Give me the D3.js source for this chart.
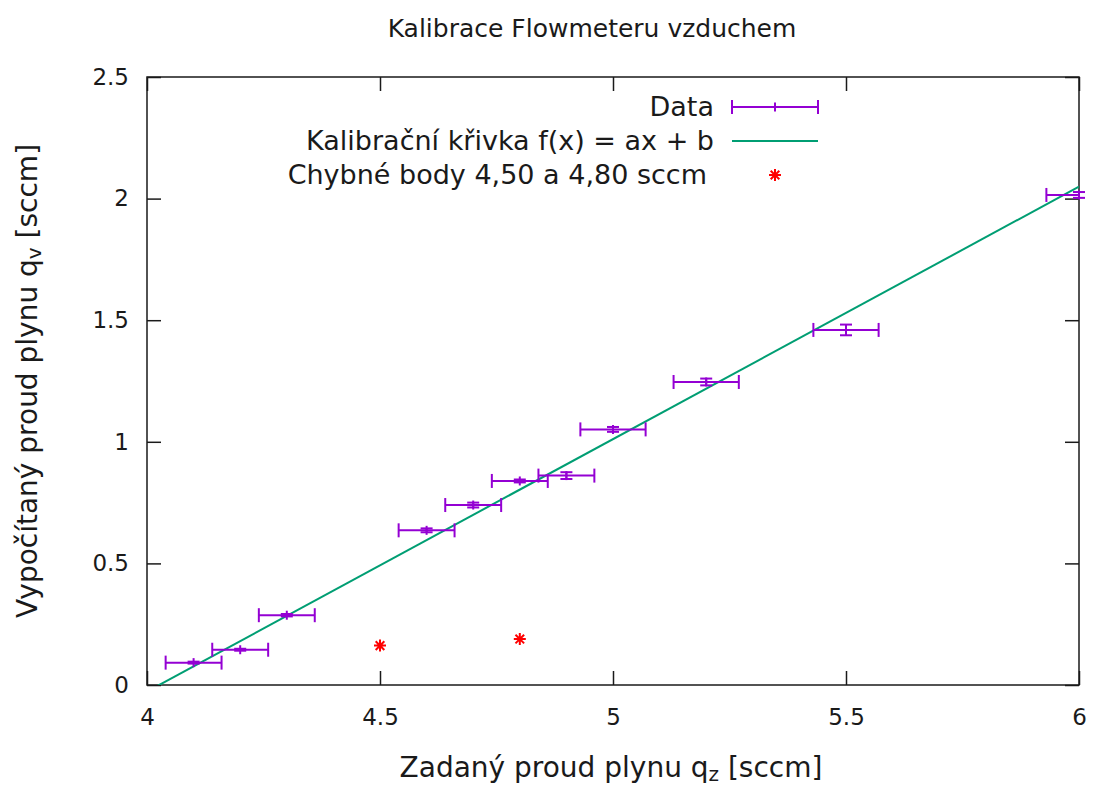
<!DOCTYPE html>
<html>
<head>
<meta charset="utf-8">
<script src="https://cdn.jsdelivr.net/npm/d3@7"></script>
<style>
  html, body { margin: 0; padding: 0; background: #fff; }
  svg { display: block; }
  text { font-family: "DejaVu Sans", sans-serif; fill: #1a1a1a; }
</style>
</head>
<body>
<svg id="chart" width="1096" height="787"></svg>
<script>
// Measured flow values (sccm)
const qSet  = [4.1, 4.2, 4.3, 4.6, 4.7, 4.8, 4.9, 5.0, 5.2, 5.5, 6.0];
const qCalc = [0.092, 0.145, 0.287, 0.636, 0.740, 0.839, 0.861, 1.051, 1.246, 1.460, 2.015];
const qSetErr  = [0.06, 0.06, 0.06, 0.06, 0.06, 0.06, 0.06, 0.07, 0.07, 0.07, 0.07];
const qCalcErr = [0.004, 0.004, 0.005, 0.008, 0.010, 0.006, 0.014, 0.010, 0.014, 0.022, 0.012];

// Faulty points
const badSet  = [4.5, 4.8];
const badCalc = [0.162, 0.189];

// Calibration line f(x) = a x + b
const fitA = 1.038;
const fitB = -4.179;

const xTicks = [4, 4.5, 5, 5.5, 6];
const yTicks = [0, 0.5, 1, 1.5, 2, 2.5];

const titleText = "Kalibrace Flowmeteru vzduchem";
const legendLabels = ["Data", "Kalibrační křivka f(x) = ax + b", "Chybné body 4,50 a 4,80 sccm"];

const colData = "#9400d3", colFit = "#009e73", colBad = "#ff0000";

const svg = d3.select("#chart");
const m = { left: 147, right: 1079, top: 77, bottom: 685 };

const x = d3.scaleLinear().domain([4, 6]).range([m.left, m.right]);
const y = d3.scaleLinear().domain([0, 2.5]).range([m.bottom, m.top]);

svg.append("defs").append("clipPath").attr("id", "plotClip")
  .append("rect").attr("x", m.left).attr("y", m.top)
  .attr("width", m.right - m.left).attr("height", m.bottom - m.top);

const tickFont = 23;
const labelFont = 28;
const legendFont = 27;
const subFont = 20;
const tickLen = 14;

// Axes with inward ticks on all four sides
const axB = d3.axisBottom(x).tickValues(xTicks).tickSize(tickLen).tickFormat(d3.format("~g"));
const axT = d3.axisTop(x).tickValues(xTicks).tickSize(tickLen).tickFormat("");
const axL = d3.axisLeft(y).tickValues(yTicks).tickSize(tickLen).tickFormat(d3.format("~g"));
const axR = d3.axisRight(y).tickValues(yTicks).tickSize(tickLen).tickFormat("");

function styleAxis(g) {
  g.select(".domain").remove();
  g.selectAll(".tick line").attr("stroke", "#1a1a1a").attr("stroke-width", 1.5);
  g.selectAll(".tick text").style("font-size", tickFont + "px").attr("fill", "#1a1a1a");
}

const gB = svg.append("g").attr("transform", `translate(0,${m.bottom})`).call(axB).call(styleAxis);
gB.selectAll(".tick line").attr("y2", -tickLen);
gB.selectAll(".tick text").attr("y", 24).attr("dy", "0.71em");

const gT = svg.append("g").attr("transform", `translate(0,${m.top})`).call(axT).call(styleAxis);
gT.selectAll(".tick line").attr("y2", tickLen);

const gL = svg.append("g").attr("transform", `translate(${m.left},0)`).call(axL).call(styleAxis);
gL.selectAll(".tick line").attr("x2", tickLen);
gL.selectAll(".tick text").attr("x", -18);

const gR = svg.append("g").attr("transform", `translate(${m.right},0)`).call(axR).call(styleAxis);
gR.selectAll(".tick line").attr("x2", -tickLen);

// Frame
svg.append("rect").attr("x", m.left).attr("y", m.top)
  .attr("width", m.right - m.left).attr("height", m.bottom - m.top)
  .attr("fill", "none").attr("stroke", "#1a1a1a").attr("stroke-width", 1.5);

// Calibration line
const fitX = x.domain();
svg.append("line")
  .attr("clip-path", "url(#plotClip)")
  .attr("x1", x(fitX[0])).attr("y1", y(fitA * fitX[0] + fitB))
  .attr("x2", x(fitX[1])).attr("y2", y(fitA * fitX[1] + fitB))
  .attr("stroke", colFit).attr("stroke-width", 2);

// Data with error bars
const pts = qSet.map((v, i) => ({ x: v, y: qCalc[i], ex: qSetErr[i], ey: qCalcErr[i] }));
const capX = 7, capY = 6, ptR = 4.5;

const gXb = svg.append("g").attr("clip-path", "url(#plotClip)")
  .attr("stroke", colData).attr("stroke-width", 2).attr("fill", "none");
pts.forEach(p => {
  const cy = y(p.y), xl = x(p.x - p.ex), xr = x(p.x + p.ex);
  gXb.append("line").attr("x1", xl).attr("x2", xr).attr("y1", cy).attr("y2", cy);
  gXb.append("line").attr("x1", xl).attr("x2", xl).attr("y1", cy - capX).attr("y2", cy + capX);
  gXb.append("line").attr("x1", xr).attr("x2", xr).attr("y1", cy - capX).attr("y2", cy + capX);
});

const gYb = svg.append("g").attr("stroke", colData).attr("stroke-width", 2).attr("fill", "none");
pts.forEach(p => {
  const cx = x(p.x), yt = y(p.y + p.ey), yb = y(p.y - p.ey);
  gYb.append("line").attr("x1", cx).attr("x2", cx).attr("y1", yt).attr("y2", yb);
  gYb.append("line").attr("x1", cx - capY).attr("x2", cx + capY).attr("y1", yt).attr("y2", yt);
  gYb.append("line").attr("x1", cx - capY).attr("x2", cx + capY).attr("y1", yb).attr("y2", yb);
  gYb.append("line").attr("x1", cx).attr("x2", cx).attr("y1", y(p.y) - ptR).attr("y2", y(p.y) + ptR);
});

// Asterisk marker
function star(g, cx, cy, r) {
  const d = r * 0.72;
  g.append("path")
    .attr("d", `M${cx - r},${cy}H${cx + r}M${cx},${cy - r}V${cy + r}` +
               `M${cx - d},${cy - d}L${cx + d},${cy + d}M${cx - d},${cy + d}L${cx + d},${cy - d}`)
    .attr("stroke", colBad).attr("stroke-width", 2).attr("fill", "none");
}
const gBad = svg.append("g");
badSet.forEach((v, i) => star(gBad, x(v), y(badCalc[i]), 6));

// Legend
const legTextX = [714, 714, 707], legS0 = 732, legS1 = 818;
const legRows = [107, 141, 175];
const gLeg = svg.append("g");
legendLabels.forEach((t, i) => {
  gLeg.append("text").attr("x", legTextX[i]).attr("y", legRows[i]).attr("dy", "0.35em")
    .attr("text-anchor", "end").style("font-size", legendFont + "px").text(t);
});
{
  const cy = legRows[0], cx = (legS0 + legS1) / 2;
  const g = gLeg.append("g").attr("stroke", colData).attr("stroke-width", 2);
  g.append("line").attr("x1", legS0).attr("x2", legS1).attr("y1", cy).attr("y2", cy);
  g.append("line").attr("x1", legS0).attr("x2", legS0).attr("y1", cy - capX).attr("y2", cy + capX);
  g.append("line").attr("x1", legS1).attr("x2", legS1).attr("y1", cy - capX).attr("y2", cy + capX);
  g.append("line").attr("x1", cx).attr("x2", cx).attr("y1", cy - ptR).attr("y2", cy + ptR);
}
gLeg.append("line").attr("x1", legS0).attr("x2", legS1)
  .attr("y1", legRows[1]).attr("y2", legRows[1])
  .attr("stroke", colFit).attr("stroke-width", 2);
star(gLeg, (legS0 + legS1) / 2, legRows[2], 6);

// Title
svg.append("text").attr("x", 592).attr("y", 37)
  .attr("text-anchor", "middle").style("font-size", "25px").text(titleText);

// Axis labels
const xl = svg.append("text").attr("x", 611).attr("y", 777)
  .attr("text-anchor", "middle").style("font-size", labelFont + "px");
xl.append("tspan").text("Zadaný proud plynu q");
xl.append("tspan").attr("dy", "0.2em").style("font-size", subFont + "px").text("z");
xl.append("tspan").attr("dy", "-0.14em").text(" [sccm]");

const yl = svg.append("text").attr("transform", "translate(37,381) rotate(-90)")
  .attr("text-anchor", "middle").style("font-size", labelFont + "px");
yl.append("tspan").text("Vypočítaný proud plynu q");
yl.append("tspan").attr("dy", "0.2em").style("font-size", subFont + "px").text("v");
yl.append("tspan").attr("dy", "-0.14em").text(" [sccm]");
</script>
</body>
</html>
